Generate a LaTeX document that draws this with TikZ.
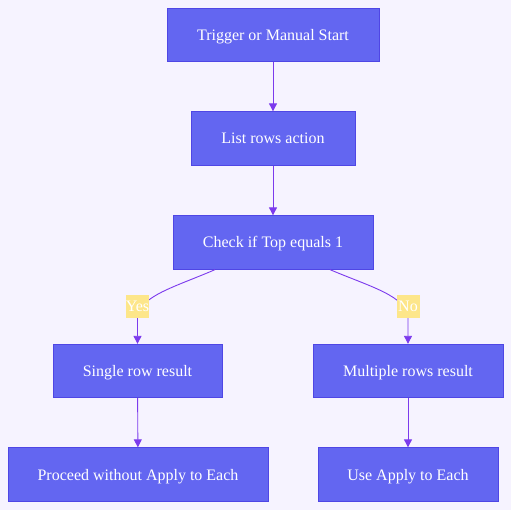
\documentclass[tikz,border=0pt]{standalone}
\usepackage{fontspec}
\setmainfont{Liberation Serif}
\usepackage{xcolor}
\usetikzlibrary{arrows.meta}

\definecolor{bgcol}{HTML}{F6F3FF}
\definecolor{boxfill}{HTML}{6366F1}
\definecolor{boxline}{HTML}{4F46E5}
\definecolor{flowcol}{HTML}{7C3AED}
\definecolor{lblfill}{HTML}{FDE68A}

\tikzset{
    stepbox/.style={draw=boxline, fill=boxfill, line width=0.8pt, text=white,
        minimum height=53.5pt, inner sep=0pt, text height=11pt, text depth=0pt,
        font=\fontsize{16}{19}\selectfont},
    flow/.style={draw=flowcol, line width=0.9pt, -{Triangle[length=8pt, width=8pt]}},
    branch/.style={fill=lblfill, text=white, inner sep=0pt, minimum width=23pt,
        minimum height=23pt, text height=11pt, text depth=0pt,
        font=\fontsize{16}{19}\selectfont}
}

\begin{document}
\begin{tikzpicture}[x=1pt, y=-1pt]
    \fill[bgcol] (0, 0) rectangle (511, 510);
    \useasboundingbox (0, 0) rectangle (511, 510);

    \node[stepbox, minimum width=212pt] (start) at (273, 35) {Trigger or Manual Start};
    \node[stepbox, minimum width=164pt] (list) at (273, 138.5) {List rows action};
    \node[stepbox, minimum width=200pt] (check) at (273, 242.5) {Check if Top equals 1};
    \node[stepbox, minimum width=169pt] (single) at (137.5, 371) {Single row result};
    \node[stepbox, minimum width=190pt] (multi) at (408, 371) {Multiple rows result};
    \node[stepbox, minimum width=260pt] (proceed) at (138, 474.5) {Proceed without Apply to Each};
    \node[stepbox, minimum width=180pt] (useeach) at (408, 474.5) {Use Apply to Each};

    \draw[flow] (start) -- (list);
    \draw[flow] (list) -- (check);
    % branches, labels drawn on top
    \draw[flow] ([xshift=-58pt]check.south) .. controls (175, 287) and (139, 296) .. (137.5, 318) -- (single.north);
    \draw[flow] ([xshift=57pt]check.south) .. controls (371, 287) and (406.5, 296) .. (408, 318) -- (multi.north);
    \node[branch] (yes) at (137.5, 306.5) {Yes};
    \node[branch] (no) at (408, 306.5) {No};
    \draw[flow] (single) -- (proceed);
    \draw[flow] (multi) -- (useeach);
\end{tikzpicture}
\end{document}
